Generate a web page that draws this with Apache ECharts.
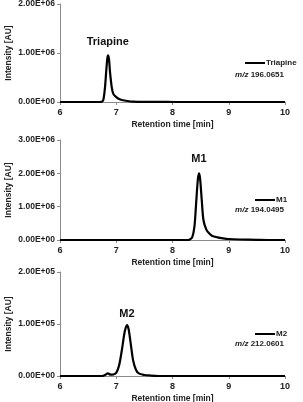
<!DOCTYPE html>
<html><head><meta charset="utf-8">
<script src="https://cdn.jsdelivr.net/npm/echarts@6/dist/echarts.min.js"></script>
<style>html,body{margin:0;padding:0;background:#fff}#c{width:303px;height:402px}</style>
</head><body><div id="c"></div>
<script>
// Triapine trace, m/z 196.0651
const t1 = [6.0, 6.70, 6.74, 6.77, 6.80, 6.83, 6.85, 6.87, 6.89, 6.92, 6.95, 7.00, 7.05, 7.10, 7.20, 7.30, 7.50, 7.90, 8.20, 10.0];
const y1 = [0, 0, 5e3, 4e4, 3e5, 7.5e5, 9.5e5, 8.8e5, 6e5, 3e5, 1.6e5, 1.0e5, 6e4, 4e4, 2e4, 8e3, 3e3, 1e3, 0, 0];
// M1 trace, m/z 194.0495
const t2 = [6.0, 8.25, 8.30, 8.35, 8.39, 8.42, 8.45, 8.47, 8.49, 8.52, 8.55, 8.60, 8.65, 8.70, 8.80, 8.90, 9.00, 9.20, 9.50, 9.70, 10.0];
const y2 = [0, 0, 1e4, 8e4, 4e5, 1.1e6, 1.8e6, 2.0e6, 1.85e6, 1.2e6, 6e5, 3.2e5, 2e5, 1.3e5, 8e4, 5e4, 3e4, 1.5e4, 5e3, 0, 0];
// M2 trace, m/z 212.0601
const t3 = [6.0, 6.75, 6.80, 6.85, 6.90, 6.95, 7.00, 7.05, 7.10, 7.15, 7.19, 7.22, 7.26, 7.30, 7.35, 7.40, 7.50, 7.60, 7.80, 10.0];
const y3 = [0, 0, 2e3, 5e3, 2.5e3, 3e3, 6e3, 2e4, 5e4, 8.5e4, 9.8e4, 9e4, 6e4, 3e4, 1.2e4, 5e3, 2e3, 1e3, 0, 0];

const names = ['Triapine', 'M1', 'M2'];
const mzLabels = ['196.0651', '194.0495', '212.0601'];
const yMax = [2e6, 3e6, 2e5];
const yStep = [1e6, 1e6, 1e5];
const xTicks = [6, 7, 8, 9, 10];

const FONT = '"Liberation Sans", Arial, sans-serif';
const traces = [[t1, y1], [t2, y2], [t3, y3]];
const grids = [
  {left: 60, right: 18, top: 4, height: 98, outerBoundsMode: 'none', containLabel: false},
  {left: 60, right: 18, top: 140, height: 100, outerBoundsMode: 'none', containLabel: false},
  {left: 60, right: 18, top: 272, height: 104, outerBoundsMode: 'none', containLabel: false}
];
const legendTops = [59, 196, 330];
const legendLefts = [245, 255, 255];
const mzTops = [71, 206, 340];
const labelDist = [7, 8, 5];

function fmtE(v) {
  const s = v.toExponential(2).split('e');
  const ex = parseInt(s[1], 10);
  return s[0] + 'E' + (ex < 0 ? '-' : '+') + String(Math.abs(ex)).padStart(2, '0');
}
const axisLine = {show: true, lineStyle: {color: '#8c8c8c', width: 1}};

const option = {
  animation: false,
  backgroundColor: '#fff',
  grid: grids,
  xAxis: grids.map((g, i) => ({
    type: 'value', gridIndex: i, min: xTicks[0], max: xTicks[xTicks.length - 1], interval: 1,
    axisLine: axisLine, axisTick: {show: true, length: 3, lineStyle: {color: '#8c8c8c'}},
    splitLine: {show: false},
    axisLabel: {color: '#222', fontSize: 9, fontWeight: 'bold', fontFamily: FONT, margin: 6},
    name: 'Retention time [min]', nameLocation: 'middle', nameGap: 18, nameMoveOverlap: false,
    nameTextStyle: {color: '#222', fontSize: 8.5, fontWeight: 'bold', fontFamily: FONT}
  })),
  yAxis: grids.map((g, i) => ({
    type: 'value', gridIndex: i, min: 0, max: yMax[i], interval: yStep[i],
    axisLine: axisLine, axisTick: {show: true, length: 3, lineStyle: {color: '#8c8c8c'}},
    splitLine: {show: false},
    axisLabel: {color: '#222', fontSize: 8.5, fontWeight: 'bold', fontFamily: FONT, margin: 5, formatter: fmtE},
    name: 'Intensity [AU]', nameLocation: 'middle', nameGap: 47, nameMoveOverlap: false,
    nameTextStyle: {color: '#222', fontSize: 8.5, fontWeight: 'bold', fontFamily: FONT}
  })),
  legend: names.map((n, i) => ({
    data: [n], left: legendLefts[i], top: legendTops[i], icon: 'rect', itemWidth: 20, itemHeight: 2,
    itemGap: 0, padding: 0,
    textStyle: {color: '#222', fontSize: 8, fontWeight: 'bold', fontFamily: FONT, padding: [0, 0, 0, -4]}
  })),
  title: mzLabels.map((m, i) => ({
    text: '{i|m/z }{b|' + m + '}', right: 19, top: mzTops[i], padding: 0,
    textStyle: {
      rich: {
        i: {fontStyle: 'italic', fontWeight: 'bold', fontSize: 8, color: '#222', fontFamily: FONT},
        b: {fontWeight: 'bold', fontSize: 8, color: '#222', fontFamily: FONT}
      }
    }
  })),
  series: traces.map((tr, i) => ({
    type: 'line', name: names[i], xAxisIndex: i, yAxisIndex: i,
    data: tr[0].map((t, k) => [t, tr[1][k]]),
    showSymbol: false, smooth: 0.3,
    lineStyle: {color: '#000', width: 2.2}, itemStyle: {color: '#000'},
    markPoint: {
      symbol: 'circle', symbolSize: 1, itemStyle: {color: 'rgba(0,0,0,0)'},
      data: [{type: 'max', name: names[i]}],
      label: {show: true, position: 'top', distance: labelDist[i], formatter: names[i],
        color: '#111', fontSize: 11, fontWeight: 'bold', fontFamily: FONT}
    }
  }))
};
echarts.init(document.getElementById('c'), null, {renderer: 'canvas'}).setOption(option);
</script></body></html>
